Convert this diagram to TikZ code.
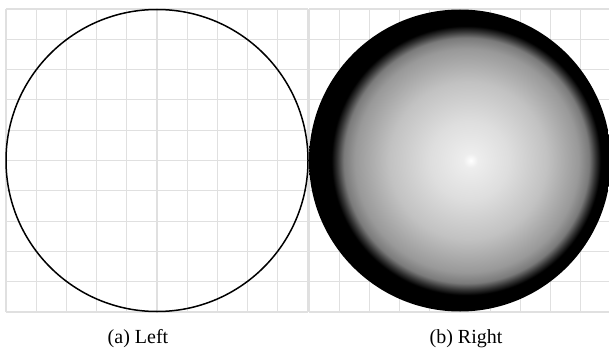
\documentclass[tikz,border=0pt]{standalone}
\usepackage{fontspec}
\setmainfont{Liberation Serif}
\pgfdeclareradialshading{ballshade}{\pgfpoint{1.8bp}{0bp}}{%
  color(0bp)=(white);
  color(1.2bp)=(black!7);
  color(6.5bp)=(black!13);
  color(13bp)=(black!24);
  color(18.5bp)=(black!40);
  color(20.3bp)=(black!52);
  color(21.4bp)=(black!80);
  color(22.3bp)=(black);
  color(25bp)=(black);
  color(50bp)=(black)}
\tikzset{
  gridline/.style={draw=black!12, line width=1.1pt},
  outline/.style={draw=black, line width=1.5pt},
  caption/.style={anchor=base, font=\fontsize{20}{24}\selectfont, inner sep=0pt}
}
\begin{document}
\begin{tikzpicture}[x=1pt,y=1pt]
\useasboundingbox (0,0) rectangle (609,351);
\clip (0,0) rectangle (609,351);
% grids
\foreach \o in {0,303}{
  \foreach \i in {0,...,10}{
    \draw[gridline] ({6+\o+30.2*\i},39) -- ({6+\o+30.2*\i},342);
    \draw[gridline] ({6+\o},{39+30.3*\i}) -- ({308+\o},{39+30.3*\i});
  }
}
% left circle
\draw[outline] (157,190.5) circle (151);
% right shaded ball
\shade[shading=ballshade] (460,190.5) circle (151);
% captions
\node[caption] (capa) at (138,8) {(a) Left};
\node[caption] (capb) at (466,8) {(b) Right};
\end{tikzpicture}
\end{document}
